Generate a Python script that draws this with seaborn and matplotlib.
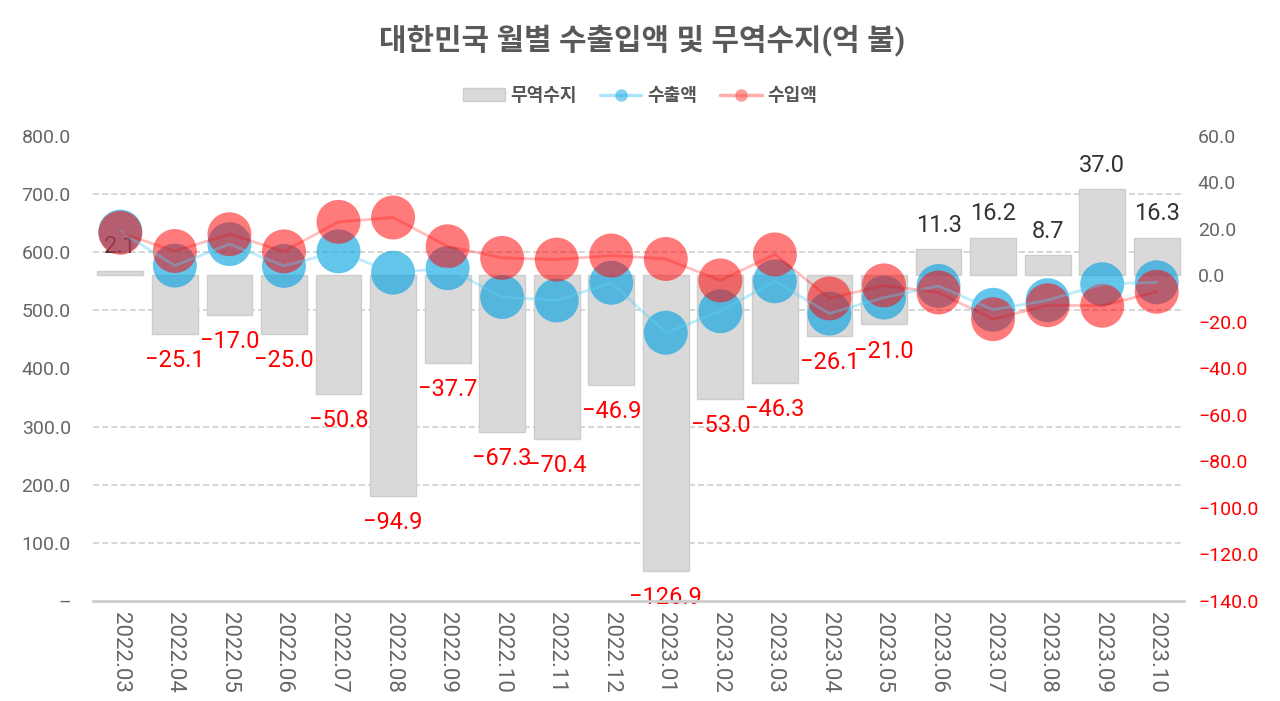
import numpy as np
import matplotlib
matplotlib.use("Agg")
import matplotlib.pyplot as plt
from matplotlib.patches import Patch
from matplotlib.lines import Line2D
from matplotlib.ticker import FuncFormatter
import seaborn as sns

# data (억 불)
months = ["2022.03", "2022.04", "2022.05", "2022.06", "2022.07", "2022.08", "2022.09",
          "2022.10", "2022.11", "2022.12", "2023.01", "2023.02", "2023.03", "2023.04",
          "2023.05", "2023.06", "2023.07", "2023.08", "2023.09", "2023.10"]
exports = [635.5, 577.0, 614.0, 576.5, 601.5, 564.8, 572.5, 523.0, 517.0, 547.5,
           461.5, 498.5, 550.0, 494.5, 522.0, 542.0, 501.0, 517.5, 545.0, 548.3]
imports = [633.4, 602.1, 631.0, 601.5, 652.3, 659.7, 610.2, 590.3, 587.4, 594.4,
           588.4, 551.5, 596.3, 520.6, 543.0, 530.7, 484.8, 508.8, 508.0, 532.0]
balance = [2.1, -25.1, -17.0, -25.0, -50.8, -94.9, -37.7, -67.3, -70.4, -46.9,
           -126.9, -53.0, -46.3, -26.1, -21.0, 11.3, 16.2, 8.7, 37.0, 16.3]

left_ticks = list(range(0, 801, 100))
right_ticks = list(range(-140, 61, 20))

sns.set_theme(style="white")
plt.rcParams['font.family'] = ['Roboto', 'Noto Sans CJK KR', 'DejaVu Sans']

blue = '#09a3e0'
red = '#ff0000'
bar_c = '#d9d9d9'
gray_txt = '#666666'

fig = plt.figure(figsize=(12.8, 7.01), dpi=100)
ax_bar = fig.add_axes([0.0727, 0.1427, 0.8523, 0.6633])
ax_line = ax_bar.twinx()

# bars (trade balance, right scale)
sns.barplot(x=months, y=balance, ax=ax_bar, color=bar_c, saturation=1,
            edgecolor='#cdcdcd', linewidth=1, width=0.84, zorder=2)
ax_bar.set_ylim(-140, 60)
ax_bar.set_xlim(-0.5, len(months) - 0.5)

# grid under the bars at the left-scale positions
lo, hi = ax_bar.get_ylim()
grid_pos = [lo + (t - left_ticks[0]) * (hi - lo) / (left_ticks[-1] - left_ticks[0]) for t in left_ticks]
ax_bar.set_yticks(grid_pos, minor=True)
ax_bar.grid(False)
ax_bar.grid(which='minor', axis='y', color='#cccccc', linestyle=(0, (4, 2)), linewidth=1.1, zorder=0)
ax_bar.tick_params(axis='y', which='minor', length=0)
ax_bar.set_axisbelow(True)

# lines + big markers (exports/imports, left scale)
x = np.arange(len(months))
sns.scatterplot(x=x, y=exports, ax=ax_line, s=1000, color=blue, alpha=0.63,
                edgecolor='none', zorder=2, legend=False)
sns.scatterplot(x=x, y=imports, ax=ax_line, s=1000, color=red, alpha=0.52,
                edgecolor='none', zorder=3, legend=False)
ax_line.plot(x, exports, color='#5fcdf5', alpha=0.4, lw=2, zorder=4)
ax_line.plot(x, imports, color=red, alpha=0.25, lw=2, zorder=4)
ax_line.set_ylim(0, 800)
ax_line.set_yticks(left_ticks)
ax_line.grid(False)

# swap sides: exports scale on left, balance scale on right
ax_line.yaxis.set_ticks_position('left')
ax_line.yaxis.set_label_position('left')
ax_bar.yaxis.set_ticks_position('right')
ax_bar.yaxis.set_label_position('right')

ax_line.yaxis.set_major_formatter(FuncFormatter(lambda v, _: '–' if v == 0 else f'{v:.1f}'))
ax_line.tick_params(axis='y', labelsize=14, labelcolor=gray_txt, length=0, pad=16)

ax_bar.set_yticks(right_ticks)
ax_bar.set_yticklabels([f'{t:.1f}'.replace('-', '−') for t in right_ticks])
ax_bar.tick_params(axis='y', which='major', labelsize=14, length=0, pad=10)
for lab, t in zip(ax_bar.get_yticklabels(), right_ticks):
    lab.set_color(red if t < 0 else gray_txt)

ax_bar.set_xticks(x)
ax_bar.set_xticklabels(months, rotation=-90)
ax_bar.tick_params(axis='x', labelsize=16, labelcolor=gray_txt, length=0, pad=8)
ax_bar.set_xlabel('')
ax_bar.set_ylabel('')
ax_line.set_ylabel('')

for a in (ax_bar, ax_line):
    for s in ('top', 'left', 'right', 'bottom'):
        a.spines[s].set_visible(False)
ax_line.spines['bottom'].set_visible(True)
ax_line.spines['bottom'].set_color('#cccccc')
ax_line.spines['bottom'].set_linewidth(2)

# value labels
for i, v in enumerate(balance):
    txt = f'{v:.1f}'.replace('-', '−')
    if v >= 0:
        ax_bar.annotate(txt, (i, v), xytext=(0, 9), textcoords='offset points',
                        ha='center', va='bottom', fontsize=17, color='#333333')
    else:
        ax_bar.annotate(txt, (i, v), xytext=(0, -11), textcoords='offset points',
                        ha='center', va='top', fontsize=17, color=red)

# legend
handles = [
    Patch(facecolor=bar_c, edgecolor='#cdcdcd'),
    Line2D([0], [0], color='#5fcdf5', alpha=0.5, lw=2.5, marker='o', markersize=9,
           markerfacecolor=blue, markeredgecolor='none'),
    Line2D([0], [0], color='#ff7777', alpha=0.6, lw=2.5, marker='o', markersize=9,
           markerfacecolor='#ff5555', markeredgecolor='none'),
]
leg = fig.legend(handles, ['무역수지', '수출액', '수입액'], loc='center',
                 bbox_to_anchor=(0.5, 0.863), ncol=3, frameon=False,
                 handlelength=2.3, handletextpad=0.3, columnspacing=1.3,
                 prop={'size': 13, 'weight': 'bold'})
for t in leg.get_texts():
    t.set_color('#555555')

fig.suptitle('대한민국 월별 수출입액 및 무역수지(억 불)', x=0.502, y=0.943, va='center',
             fontsize=21.5, fontweight='bold', color='#595959')

fig.savefig('out.png', dpi=100)
